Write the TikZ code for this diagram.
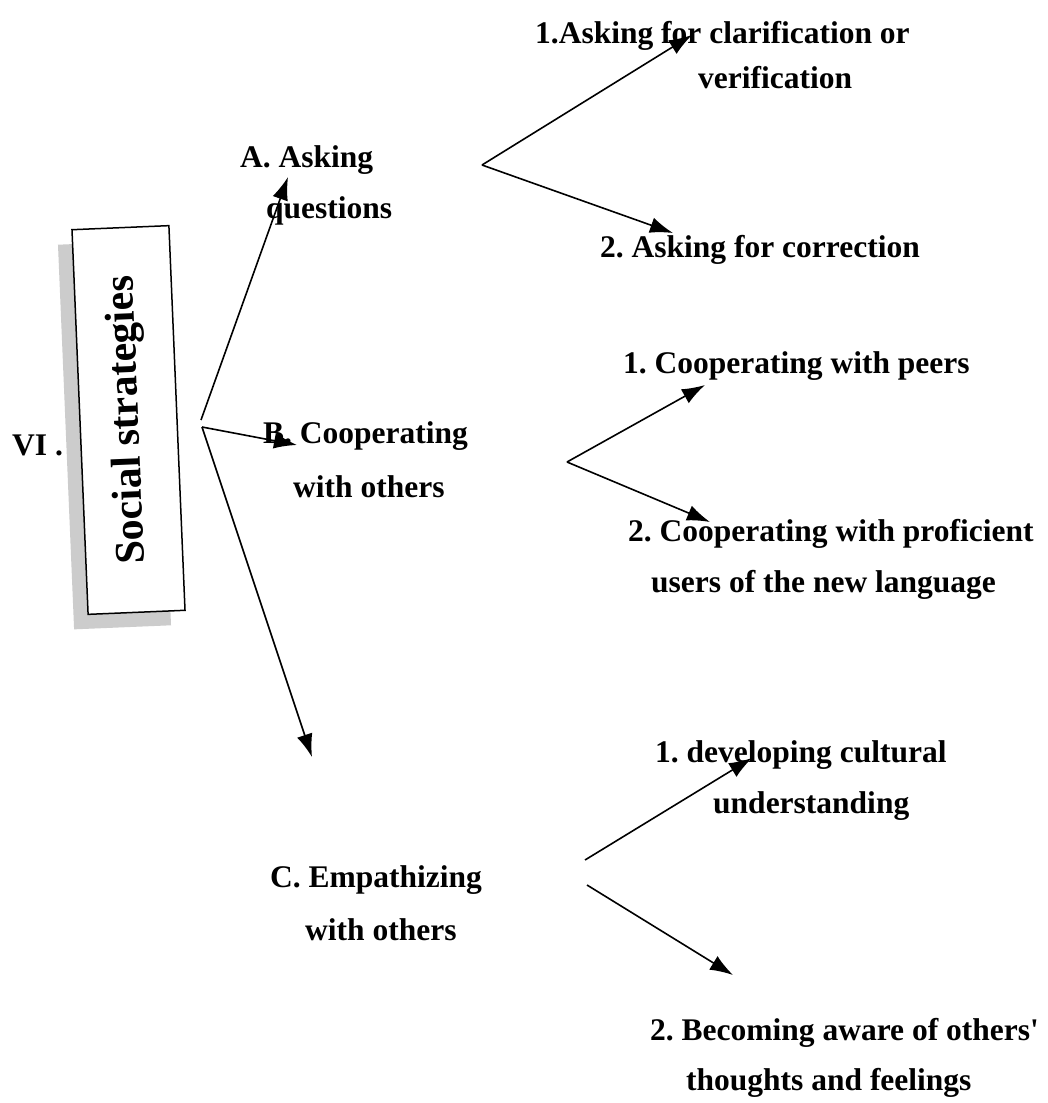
\documentclass[tikz,border=0pt]{standalone}
\usepackage{fontspec}
\setmainfont{Liberation Serif}[Ligatures=TeXOff]
\usetikzlibrary{arrows.meta}
\frenchspacing
\begin{document}
\begin{tikzpicture}[x=1pt,y=-1pt,
  lbl/.style={anchor=base west, inner sep=0pt, font=\fontsize{31.5}{36}\selectfont\bfseries},
  arr/.style={line width=1.6pt, -{Latex[length=23pt,width=16pt]}},
  boxshape/.style={rotate=92.4, minimum width=385pt, minimum height=97pt, inner sep=0pt}]
\useasboundingbox (0,0) rectangle (1048,1103);
\fill[white] (0,0) rectangle (1048,1103);
% box with shadow
\node[boxshape, fill=gray!40] (shadow) at (114.5,435) {};
\node[boxshape, draw, line width=1.5pt, fill=white, font=\fontsize{42}{48}\selectfont\bfseries] (box) at (128.5,420) {Social strategies};
\node[lbl] (vi) at (12,455) {VI .};
% level 1
\node[lbl] (a1) at (240,167) {A. Asking};
\node[lbl] (a2) at (266,218) {questions};
\node[lbl] (b1) at (263,443) {B. Cooperating};
\node[lbl] (b2) at (293,497) {with others};
\node[lbl] (c1) at (270,887) {C. Empathizing};
\node[lbl] (c2) at (305,940) {with others};
% level 2
\node[lbl] (a11) at (535,43) {1.Asking for clarification or};
\node[lbl] (a12) at (698,88) {verification};
\node[lbl] (a21) at (600,257) {2. Asking for correction};
\node[lbl] (b11) at (623,373) {1. Cooperating with peers};
\node[lbl] (b21) at (628,541) {2. Cooperating with proficient};
\node[lbl] (b22) at (651,592) {users of the new language};
\node[lbl] (c11) at (655,762) {1. developing cultural};
\node[lbl] (c12) at (713,813) {understanding};
\node[lbl] (c21) at (650,1040) {2. Becoming aware of others'};
\node[lbl] (c22) at (686,1090) {thoughts and feelings};
% connector points
\coordinate (sA) at (201,420);
\coordinate (sBC) at (202,427);
\coordinate (tA) at (288,177);
\coordinate (tB) at (297,445);
\coordinate (tC) at (312,757);
\coordinate (sa) at (482,165);
\coordinate (ta1) at (692,35);
\coordinate (ta2) at (673,233);
\coordinate (sb) at (567,462);
\coordinate (tb1) at (705,385);
\coordinate (tb2) at (710,522);
\coordinate (sc1) at (585,860);
\coordinate (tc1) at (752,758);
\coordinate (sc2) at (587,885);
\coordinate (tc2) at (733,975);
\draw[arr] (sA) -- (tA);
\draw[arr] (sBC) -- (tB);
\draw[arr] (sBC) -- (tC);
\draw[arr] (sa) -- (ta1);
\draw[arr] (sa) -- (ta2);
\draw[arr] (sb) -- (tb1);
\draw[arr] (sb) -- (tb2);
\draw[arr] (sc1) -- (tc1);
\draw[arr] (sc2) -- (tc2);
\end{tikzpicture}
\end{document}
